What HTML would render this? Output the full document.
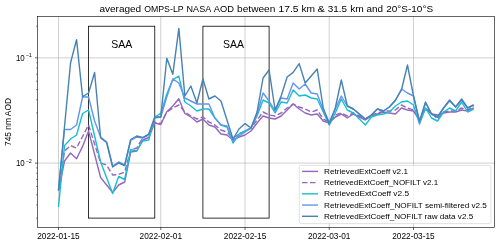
<!DOCTYPE html><html><head><meta charset="utf-8"><style>html,body{margin:0;padding:0;background:#fff;width:500px;height:244px;overflow:hidden}svg{display:block;will-change:transform}text{font-family:"Liberation Sans",sans-serif;fill:#000}</style></head><body><svg width="500" height="244" viewBox="0 0 500 244"><rect width="500" height="244" fill="#fff"/><path d="M58.50 16.49V227.37M160.79 16.49V227.37M245.02 16.49V227.37M329.26 16.49V227.37M413.50 16.49V227.37M37.6 57.90H494.35M37.6 163.10H494.35" stroke="#b0b0b0" stroke-width="0.6" fill="none"/><rect x="88.58" y="26.23" width="66.19" height="191.88" fill="none" stroke="#000" stroke-width="0.8"/><text x="121.68" y="48.1" font-size="10.3" text-anchor="middle" textLength="21" lengthAdjust="spacingAndGlyphs">SAA</text><rect x="202.91" y="26.23" width="66.19" height="191.88" fill="none" stroke="#000" stroke-width="0.8"/><text x="233.50" y="48.1" font-size="10.3" text-anchor="middle" textLength="21" lengthAdjust="spacingAndGlyphs">SAA</text><polyline points="58.50,191.00 64.52,161.00 70.53,153.00 76.55,158.70 82.57,146.40 88.58,131.00 94.60,154.25 100.62,177.50 106.64,185.00 112.65,192.50 118.67,185.00 124.69,182.00 130.70,152.00 136.72,151.00 142.74,140.00 148.75,137.50 154.77,123.00 160.79,124.50 166.80,111.80 172.82,106.00 178.84,98.70 184.85,113.50 190.87,117.00 196.89,122.00 202.91,119.00 208.92,125.00 214.94,127.00 220.96,134.00 226.97,135.00 232.99,140.00 239.01,137.00 245.02,135.00 251.04,131.00 257.06,123.00 263.07,116.00 269.09,118.00 275.11,119.00 281.13,116.00 287.14,110.00 293.16,104.00 299.18,109.00 305.19,113.00 311.21,115.00 317.23,114.00 323.24,121.00 329.26,123.00 335.28,117.00 341.29,114.00 347.31,118.00 353.33,114.00 359.34,117.00 365.36,120.00 371.38,116.00 377.40,114.00 383.41,112.00 389.43,113.00 395.45,114.00 401.46,108.00 407.48,110.00 413.50,111.00 419.51,120.00 425.53,109.00 431.55,114.00 437.56,115.00 443.58,113.00 449.60,112.00 455.62,112.00 461.63,110.00 467.65,111.00 473.67,108.00" fill="none" stroke="#9467bd" stroke-width="1.4" stroke-linejoin="round" stroke-linecap="butt"/><polyline points="58.50,190.00 64.52,151.00 70.53,145.60 76.55,148.00 82.57,136.50 88.58,125.00 94.60,144.00 100.62,163.00 106.64,165.00 112.65,175.00 118.67,174.50 124.69,172.00 130.70,150.00 136.72,148.00 142.74,138.00 148.75,135.00 154.77,122.50 160.79,123.50 166.80,112.00 172.82,108.00 178.84,105.00 184.85,112.00 190.87,116.00 196.89,119.00 202.91,117.00 208.92,122.00 214.94,125.00 220.96,130.00 226.97,132.00 232.99,138.00 239.01,134.00 245.02,131.00 251.04,128.00 257.06,120.00 263.07,112.00 269.09,115.00 275.11,116.00 281.13,113.00 287.14,108.00 293.16,104.00 299.18,107.00 305.19,109.00 311.21,112.00 317.23,110.00 323.24,119.00 329.26,122.00 335.28,115.00 341.29,113.00 347.31,116.00 353.33,113.00 359.34,116.00 365.36,119.00 371.38,115.00 377.40,113.00 383.41,111.00 389.43,111.00 395.45,110.00 401.46,105.00 407.48,108.00 413.50,110.00 419.51,120.00 425.53,108.00 431.55,113.00 437.56,119.00 443.58,112.00 449.60,111.00 455.62,111.00 461.63,108.00 467.65,110.00 473.67,107.00" fill="none" stroke="#9467bd" stroke-width="1.4" stroke-linejoin="round" stroke-linecap="butt" stroke-dasharray="5.5 2.5"/><polyline points="58.50,207.00 64.52,145.60 70.53,139.00 76.55,135.00 82.57,113.50 88.58,110.00 94.60,136.00 100.62,162.00 106.64,177.75 112.65,193.50 118.67,176.50 124.69,179.50 130.70,149.50 136.72,151.00 142.74,141.00 148.75,140.00 154.77,117.00 160.79,113.40 166.80,94.00 172.82,79.50 178.84,76.20 184.85,102.00 190.87,106.00 196.89,111.00 202.91,109.00 208.92,109.00 214.94,118.00 220.96,125.00 226.97,127.00 232.99,143.00 239.01,134.00 245.02,131.00 251.04,128.00 257.06,116.00 263.07,100.00 269.09,103.00 275.11,113.00 281.13,102.00 287.14,103.00 293.16,90.00 299.18,96.00 305.19,95.00 311.21,98.00 317.23,99.00 323.24,112.00 329.26,125.00 335.28,113.00 341.29,99.00 347.31,110.00 353.33,113.00 359.34,119.00 365.36,125.00 371.38,117.00 377.40,115.00 383.41,114.00 389.43,112.00 395.45,106.00 401.46,102.00 407.48,101.00 413.50,105.00 419.51,124.00 425.53,108.00 431.55,118.00 437.56,121.00 443.58,112.00 449.60,108.00 455.62,111.00 461.63,102.00 467.65,112.00 473.67,109.00" fill="none" stroke="#17becf" stroke-width="1.4" stroke-linejoin="round" stroke-linecap="butt"/><polyline points="58.50,190.00 64.52,129.50 70.53,129.50 76.55,125.00 82.57,97.00 88.58,97.00 94.60,121.00 100.62,137.00 106.64,142.00 112.65,166.00 118.67,162.00 124.69,165.00 130.70,140.50 136.72,137.00 142.74,138.00 148.75,134.50 154.77,118.00 160.79,117.00 166.80,97.00 172.82,79.00 178.84,83.00 184.85,98.00 190.87,101.00 196.89,104.00 202.91,104.00 208.92,104.00 214.94,118.00 220.96,125.00 226.97,126.00 232.99,141.00 239.01,136.00 245.02,132.00 251.04,128.00 257.06,114.00 263.07,93.00 269.09,101.00 275.11,111.00 281.13,98.00 287.14,99.00 293.16,83.00 299.18,89.00 305.19,84.00 311.21,93.00 317.23,94.00 323.24,110.00 329.26,122.00 335.28,109.00 341.29,96.00 347.31,106.00 353.33,109.00 359.34,114.00 365.36,119.00 371.38,115.00 377.40,109.00 383.41,111.00 389.43,107.00 395.45,100.50 401.46,89.00 407.48,93.00 413.50,96.00 419.51,123.00 425.53,103.00 431.55,114.00 437.56,117.00 443.58,108.00 449.60,101.00 455.62,107.00 461.63,100.00 467.65,108.00 473.67,105.00" fill="none" stroke="#6495ed" stroke-width="1.4" stroke-linejoin="round" stroke-linecap="butt"/><polyline points="58.50,190.00 64.52,126.50 70.53,63.00 76.55,39.60 82.57,96.70 88.58,93.00 94.60,72.50 100.62,138.00 106.64,142.50 112.65,167.00 118.67,163.00 124.69,165.50 130.70,139.50 136.72,136.00 142.74,137.50 148.75,134.00 154.77,117.00 160.79,117.00 166.80,58.20 172.82,74.30 178.84,28.40 184.85,96.00 190.87,86.00 196.89,103.00 202.91,79.00 208.92,99.00 214.94,96.00 220.96,101.00 226.97,120.00 232.99,139.00 239.01,129.00 245.02,123.60 251.04,128.00 257.06,112.00 263.07,78.00 269.09,70.00 275.11,110.00 281.13,96.00 287.14,77.00 293.16,72.40 299.18,63.60 305.19,83.00 311.21,76.00 317.23,69.00 323.24,108.00 329.26,124.00 335.28,108.00 341.29,80.00 347.31,106.00 353.33,109.00 359.34,114.00 365.36,119.00 371.38,115.00 377.40,109.00 383.41,111.00 389.43,107.00 395.45,100.00 401.46,90.00 407.48,65.00 413.50,96.00 419.51,121.00 425.53,102.00 431.55,114.00 437.56,117.00 443.58,108.00 449.60,100.00 455.62,107.00 461.63,99.00 467.65,108.00 473.67,105.00" fill="none" stroke="#4682b4" stroke-width="1.4" stroke-linejoin="round" stroke-linecap="butt"/><rect x="37.6" y="16.49" width="456.75" height="210.88" fill="none" stroke="#000" stroke-width="0.6"/><path d="M58.50 227.37v2.6M160.79 227.37v2.6M245.02 227.37v2.6M329.26 227.37v2.6M413.50 227.37v2.6M37.6 57.90h-2.6M37.6 163.10h-2.6" stroke="#000" stroke-width="0.6" fill="none"/><path d="M37.6 218.11h-1.5M37.6 204.96h-1.5M37.6 194.77h-1.5M37.6 186.44h-1.5M37.6 179.40h-1.5M37.6 173.29h-1.5M37.6 167.91h-1.5M37.6 131.43h-1.5M37.6 112.91h-1.5M37.6 99.76h-1.5M37.6 89.57h-1.5M37.6 81.24h-1.5M37.6 74.20h-1.5M37.6 68.09h-1.5M37.6 62.71h-1.5M37.6 26.23h-1.5" stroke="#000" stroke-width="0.45" fill="none"/><text x="58.50" y="238.9" font-size="8.2" text-anchor="middle" textLength="42.5" lengthAdjust="spacingAndGlyphs">2022-01-15</text><text x="160.79" y="238.9" font-size="8.2" text-anchor="middle" textLength="42.5" lengthAdjust="spacingAndGlyphs">2022-02-01</text><text x="245.02" y="238.9" font-size="8.2" text-anchor="middle" textLength="42.5" lengthAdjust="spacingAndGlyphs">2022-02-15</text><text x="329.26" y="238.9" font-size="8.2" text-anchor="middle" textLength="42.5" lengthAdjust="spacingAndGlyphs">2022-03-01</text><text x="413.50" y="238.9" font-size="8.2" text-anchor="middle" textLength="42.5" lengthAdjust="spacingAndGlyphs">2022-03-15</text><text x="15.9" y="60.70" font-size="8.3" textLength="8.8" lengthAdjust="spacingAndGlyphs">10</text><text x="25.7" y="57.40" font-size="5.3" textLength="6.2" lengthAdjust="spacingAndGlyphs">−1</text><text x="15.9" y="165.90" font-size="8.3" textLength="8.8" lengthAdjust="spacingAndGlyphs">10</text><text x="25.7" y="162.60" font-size="5.3" textLength="6.2" lengthAdjust="spacingAndGlyphs">−2</text><text transform="translate(11.1 122) rotate(-90)" x="0" y="0" font-size="8.2" text-anchor="middle" textLength="48" lengthAdjust="spacingAndGlyphs">745 nm AOD</text><text x="99.4" y="11.5" font-size="9" textLength="41.8" lengthAdjust="spacingAndGlyphs">averaged</text><text x="144.2" y="11.5" font-size="9" textLength="39.4" lengthAdjust="spacingAndGlyphs">OMPS-LP</text><text x="186.6" y="11.5" font-size="9" textLength="24.6" lengthAdjust="spacingAndGlyphs">NASA</text><text x="213.8" y="11.5" font-size="9" textLength="20.2" lengthAdjust="spacingAndGlyphs">AOD</text><text x="237.1" y="11.5" font-size="9" textLength="38.3" lengthAdjust="spacingAndGlyphs">between</text><text x="278.6" y="11.5" font-size="9" textLength="20.0" lengthAdjust="spacingAndGlyphs">17.5</text><text x="301.4" y="11.5" font-size="9" textLength="13.6" lengthAdjust="spacingAndGlyphs">km</text><text x="317.6" y="11.5" font-size="9" textLength="7.3" lengthAdjust="spacingAndGlyphs">&amp;</text><text x="327.7" y="11.5" font-size="9" textLength="19.3" lengthAdjust="spacingAndGlyphs">31.5</text><text x="350.2" y="11.5" font-size="9" textLength="13.6" lengthAdjust="spacingAndGlyphs">km</text><text x="366.6" y="11.5" font-size="9" textLength="16.5" lengthAdjust="spacingAndGlyphs">and</text><text x="386.2" y="11.5" font-size="9" textLength="46.9" lengthAdjust="spacingAndGlyphs">20°S-10°S</text><rect x="299.3" y="165.4" width="191.6" height="58.2" rx="1.5" fill="#fff" fill-opacity="0.8" stroke="#ccc" stroke-width="0.6"/><path d="M302 171.40H318" stroke="#9467bd" stroke-width="1.4" fill="none"/><text x="324" y="174.00" font-size="8.0" textLength="84.0" lengthAdjust="spacingAndGlyphs">RetrievedExtCoeff v2.1</text><path d="M302 182.62H318" stroke="#9467bd" stroke-width="1.4" fill="none" stroke-dasharray="5.5 2.5"/><text x="324" y="185.22" font-size="8.0" textLength="114.1" lengthAdjust="spacingAndGlyphs">RetrievedExtCoeff_NOFILT v2.1</text><path d="M302 193.84H318" stroke="#17becf" stroke-width="1.4" fill="none"/><text x="324" y="196.44" font-size="8.0" textLength="85.0" lengthAdjust="spacingAndGlyphs">RetrievedExtCoeff v2.5</text><path d="M302 205.06H318" stroke="#6495ed" stroke-width="1.4" fill="none"/><text x="324" y="207.66" font-size="8.0" textLength="162.9" lengthAdjust="spacingAndGlyphs">RetrievedExtCoeff_NOFILT semi-filtered v2.5</text><path d="M302 216.28H318" stroke="#4682b4" stroke-width="1.4" fill="none"/><text x="324" y="218.88" font-size="8.0" textLength="149.2" lengthAdjust="spacingAndGlyphs">RetrievedExtCoeff_NOFILT raw data v2.5</text></svg></body></html>
